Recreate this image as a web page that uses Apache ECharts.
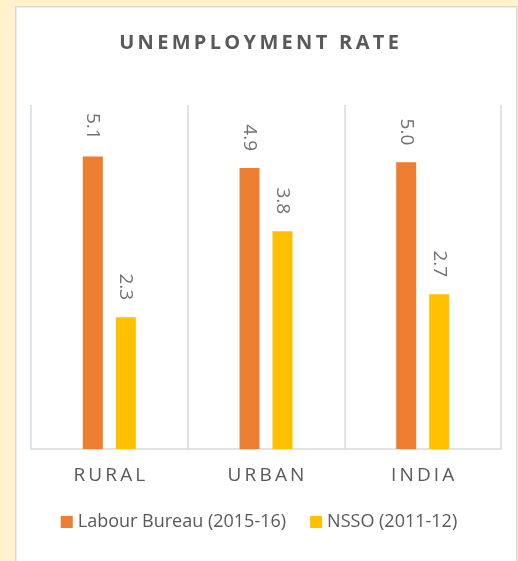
<!DOCTYPE html>
<html>
<head>
<meta charset="utf-8">
<script src="https://cdn.jsdelivr.net/npm/echarts@6/dist/echarts.min.js"></script>
<style>
  html, body { margin: 0; padding: 0; background: #FFF2CC; }
  #chart { width: 518px; height: 561px; }
</style>
</head>
<body>
<div id="chart"></div>
<script>
// Unemployment rate (%) by region, two survey sources
const titleText = 'UNEMPLOYMENT RATE';
const categories = ['RURAL', 'URBAN', 'INDIA'];
const seriesNames = ['Labour Bureau (2015-16)', 'NSSO (2011-12)'];
const labourBureau = [5.1, 4.9, 5.0];
const nsso = [2.3, 3.8, 2.7];

// Spread capital letters apart with thin spaces, wider gaps between words
const THIN = '\u2009';
function spaced(text) {
  return text.split(' ').map(w => w.split('').join(THIN)).join(THIN + ' ' + THIN);
}

const textColor = '#595959';
const fontFamily = '"Open Sans", sans-serif';

const chart = echarts.init(document.getElementById('chart'), null, { renderer: 'canvas' });

const valueLabel = {
  show: true,
  position: 'top',
  distance: 17,
  rotate: -90,
  align: 'right',
  verticalAlign: 'middle',
  color: '#737373',
  fontFamily: fontFamily,
  fontSize: 19,
  formatter: p => p.value.toFixed(1)
};

chart.setOption({
  animation: false,
  backgroundColor: '#FFF2CC',
  graphic: [{
    type: 'rect',
    left: 15,
    top: 6,
    shape: { width: 501, height: 570 },
    style: { fill: '#ffffff', stroke: '#d9d9d9', lineWidth: 1.5 },
    z: -10,
    silent: true
  }],
  title: {
    text: spaced(titleText),
    left: 'center',
    top: 28,
    textStyle: { color: textColor, fontFamily: fontFamily, fontSize: 20, fontWeight: 'bold' }
  },
  legend: {
    bottom: 25,
    left: 'center',
    itemWidth: 12,
    itemHeight: 12,
    itemGap: 24,
    icon: 'rect',
    textStyle: { color: textColor, fontFamily: fontFamily, fontSize: 18 },
    data: seriesNames
  },
  grid: { left: 31, right: 17, top: 105, bottom: 112 },
  xAxis: {
    type: 'category',
    data: categories,
    axisLine: { show: true, lineStyle: { color: '#d9d9d9', width: 1.5 } },
    axisTick: { show: false },
    splitLine: { show: true, lineStyle: { color: '#d9d9d9', width: 1.5 } },
    axisLabel: {
      margin: 17,
      color: textColor,
      fontFamily: fontFamily,
      fontSize: 19,
      formatter: v => spaced(v)
    }
  },
  yAxis: {
    type: 'value',
    min: 0,
    max: 6,
    show: false,
    splitLine: { show: false }
  },
  series: [
    {
      name: seriesNames[0],
      type: 'bar',
      data: labourBureau,
      barWidth: 20,
      barGap: '65%',
      itemStyle: { color: '#ED7D31' },
      label: valueLabel
    },
    {
      name: seriesNames[1],
      type: 'bar',
      data: nsso,
      barWidth: 20,
      itemStyle: { color: '#FFC000' },
      label: valueLabel
    }
  ]
});
</script>
</body>
</html>
